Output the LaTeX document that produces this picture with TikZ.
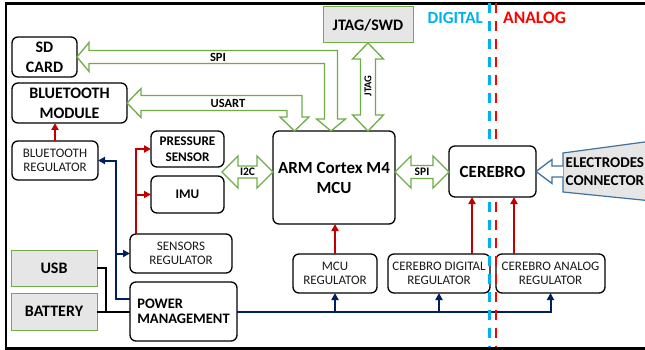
\documentclass[tikz,border=0pt]{standalone}
\usepackage{fontspec}
\setmainfont{Carlito}
\usetikzlibrary{calc,arrows.meta}
\definecolor{gr}{HTML}{70AD47}
\definecolor{rd}{HTML}{C00000}
\definecolor{nv}{HTML}{002060}
\definecolor{cy}{HTML}{00B0F0}
\definecolor{lgray}{HTML}{E7E6E6}
\definecolor{sb}{HTML}{41719C}
\definecolor{tg}{HTML}{1A1A1A}
\newcommand{\fsz}[2]{\fontsize{#1}{#2}\selectfont}
% elbow hollow double arrow: #1 left tip, #2 bottom tip
\newcommand{\garrowL}[5]{%
\draw[garrow] (#1) -- ++(#5,-#4) -- ++(0,#4-#3) -- ($(#2 |- #1)+(#3,-#3)$) -- ($(#2)+(#3,-#5)$) -- ++(#4-#3,0) -- (#2) -- ++(-#4,-#5) -- ++(#4-#3,0) -- ($(#2 |- #1)+(-#3,#3)$) -- ($(#1)+(#5,#3)$) -- ++(0,#4-#3) -- cycle;}
% vertical hollow double arrow: #1 top tip, #2 bottom tip
\newcommand{\garrowV}[5]{%
\draw[garrow] (#1) -- ++(#4,#5) -- ++(#3-#4,0) -- ($(#2)+(#3,-#5)$) -- ++(#4-#3,0) -- (#2) -- ++(-#4,-#5) -- ++(#4-#3,0) -- ($(#1)+(-#3,#5)$) -- ++(#3-#4,0) -- cycle;}
% horizontal hollow double arrow: #1 left tip, #2 right tip
\newcommand{\garrowH}[5]{%
\draw[garrow] (#1) -- ++(#5,-#4) -- ++(0,#4-#3) -- ($(#2)+(-#5,-#3)$) -- ++(0,#3-#4) -- (#2) -- ++(-#5,#4) -- ++(0,#3-#4) -- ($(#1)+(#5,#3)$) -- ++(0,#4-#3) -- cycle;}
\begin{document}
\begin{tikzpicture}[x=1pt,y=-1pt,
 box/.style={draw=black, line width=1.3pt, rounded corners=6pt, fill=white, inner sep=0pt, outer sep=0pt, align=center},
 bbox/.style={box, font=\bfseries\fsz{16}{20}},
 mbox/.style={box, font=\bfseries\fsz{17}{20}},
 sbox/.style={box, font=\bfseries\fsz{13.2}{16}},
 rbox/.style={box, text=tg, font=\fsz{13}{14}},
 gbox/.style={draw=gr, line width=1pt, fill=lgray, inner sep=0pt, outer sep=0pt, font=\bfseries\fsz{16}{20}},
 redarr/.style={draw=rd, line width=2pt, -{Triangle[length=7pt,width=7pt]}},
 nvarr/.style={draw=nv, line width=2pt, -{Triangle[length=7pt,width=7pt]}},
 nvline/.style={draw=nv, line width=2pt},
 blk/.style={draw=black, line width=2pt},
 garrow/.style={draw=gr, line width=1.3pt, fill=white, line join=miter},
 barrow/.style={draw=sb, line width=1.3pt, fill=white, line join=miter},
 lbl/.style={font=\bfseries\fsz{12.5}{14}, inner sep=0pt},
 slbl/.style={font=\bfseries\fsz{11.5}{13}, inner sep=0pt},
 sep/.style={line width=2.7pt, dash pattern=on 10pt off 8pt},
]
\useasboundingbox (0,0) rectangle (645,350);
\clip (0,0) rectangle (645,350);
\fill[white] (0,0) rectangle (645,350);
% frame
\draw[line width=2.5pt] (650,3.7) -- (6,3.7) -- (6,348.3) -- (650,348.3);

% nodes
\node[bbox, minimum width=65pt, minimum height=40pt] (sd) at (44.5,57) {SD\\CARD};
\node[bbox, minimum width=115pt, minimum height=40pt] (btm) at (69.5,103) {BLUETOOTH\\MODULE};
\node[gbox, minimum width=90pt, minimum height=36pt] (jtag) at (368,25) {JTAG/SWD};
\node[rbox, minimum width=86pt, minimum height=39pt] (btr) at (55,160.5) {BLUETOOTH\\REGULATOR};
\node[sbox, minimum width=73pt, minimum height=36pt] (ps) at (187.5,149) {PRESSURE\\SENSOR};
\node[sbox, minimum width=73pt, minimum height=37pt] (imu) at (187.5,194.5) {IMU};
\node[rbox, minimum width=102pt, minimum height=39pt] (sr) at (181,253.5) {SENSORS\\REGULATOR};
\node[box, align=left, font=\bfseries\fsz{14.5}{15}, minimum width=107pt, minimum height=59pt] (pm) at (183.5,311.5) {POWER\\MANAGEMENT};
\node[gbox, minimum width=86pt, minimum height=36pt] (usb) at (54,268) {USB};
\node[gbox, minimum width=86pt, minimum height=37pt] (bat) at (54,311.5) {BATTERY};
\node[mbox, minimum width=122pt, minimum height=93pt] (mcu) at (334,177.5) {ARM Cortex M4\\MCU};
\node[rbox, minimum width=84pt, minimum height=39pt] (mcur) at (335,273.5) {MCU\\REGULATOR};
\node[rbox, minimum width=102pt, minimum height=39pt] (cdr) at (439,273.5) {CEREBRO DIGITAL\\REGULATOR};
\node[rbox, minimum width=109pt, minimum height=39pt] (car) at (550.5,273.5) {CEREBRO ANALOG\\REGULATOR};

% navy supply lines
\coordinate (bus) at ($(pm.north west)+(-14,17)$);
\draw[nvarr] ($(pm.north west)+(0,17)$) -- (bus) |- (btr.east);
\draw[nvarr] (sr.west -| bus) -- (sr.west);
\draw[nvarr] (pm.east) -- (car.south |- pm.east) -- (car.south);
\draw[nvarr] (mcur.south |- pm.east) -- (mcur.south);
\draw[nvarr] (cdr.south |- pm.east) -- (cdr.south);

% digital / analog separators
\coordinate (dtop) at (489.7,3.5);
\coordinate (atop) at (496,3.5);
\draw[sep, cy] (dtop) -- (dtop |- 0,347);
\draw[sep, red] (atop) -- (atop |- 0,347);

\node[mbox, minimum width=87pt, minimum height=51pt] (cer) at (492.5,171.5) {CEREBRO};

% electrodes connector
\draw[draw=sb, line width=1.2pt, fill=lgray] (563,153) -- (652,141) -- (652,201) -- (563,192) -- cycle;
\node[font=\bfseries\fsz{15}{18}, align=left, anchor=west, inner sep=0pt] (elec) at (565.5,171.5) {ELECTRODES\\CONNECTOR};
\draw[barrow] ($(cer.east)+(27,-5.5)$) -- ($(cer.east)+(16,-5.5)$) -- ++(0,-6.5) -- (cer.east) -- ($(cer.east)+(16,12)$) -- ++(0,-6.5) -- ($(cer.east)+(27,5.5)$);

% green hollow arrows
\coordinate (spiT) at ($(mcu.north west)+(58,0)$);
\coordinate (usT) at ($(mcu.north west)+(21.5,0)$);
\coordinate (jtT) at (mcu.north -| jtag.south);
\garrowL{sd.east}{spiT}{6.5}{14.5}{12}
\garrowL{btm.east}{usT}{7.5}{14.5}{14}
\garrowV{jtag.south}{jtT}{7.5}{15.5}{16}
\coordinate (i2l) at ($(ps.south east)+(-2,5)$);
\coordinate (i2r) at (mcu.west |- i2l);
\garrowH{i2l}{i2r}{6}{16}{16}
\coordinate (spl) at (mcu.east |- i2l);
\coordinate (spr) at (cer.west |- i2l);
\garrowH{spl}{spr}{6.5}{16}{16}

% labels
\node[lbl] (spilab) at (218,57.5) {SPI};
\node[lbl] (uslab) at (228,103) {USART};
\node[slbl] (i2clab) at (247.5,172) {I2C};
\node[slbl] (spilab2) at (422,172) {SPI};
\node[font=\bfseries\fsz{10.5}{12}, inner sep=0pt, rotate=90] (jtlab) at (368,86) {JTAG};
\node[font=\bfseries\fsz{17}{20}, text=cy, anchor=east, inner sep=0pt] (dig) at (483,18) {DIGITAL};
\node[font=\bfseries\fsz{17.5}{20}, text=red, anchor=west, inner sep=0pt] (ana) at (503,18) {ANALOG};

% red power arrows
\draw[redarr] (btr.north) -- (btr.north |- btm.south);
\coordinate (sv) at ($(sr.north west)+(6,0)$);
\draw[redarr] (sv) |- (ps.west);
\draw[redarr] (sv) |- (imu.west);
\draw[redarr] (mcur.north) -- (mcur.north |- mcu.south);
\coordinate (cd1) at ($(cdr.north east)+(-18,0)$);
\draw[redarr] (cd1) -- (cd1 |- cer.south);
\coordinate (ca1) at ($(car.north west)+(18,0)$);
\draw[redarr] (ca1) -- (ca1 |- cer.south);

% black input lines
\draw[blk] (usb.east) -| ($(bat.east)+(9,0)$);
\draw[blk] (bat.east) -- (pm.west);
\end{tikzpicture}
\end{document}
